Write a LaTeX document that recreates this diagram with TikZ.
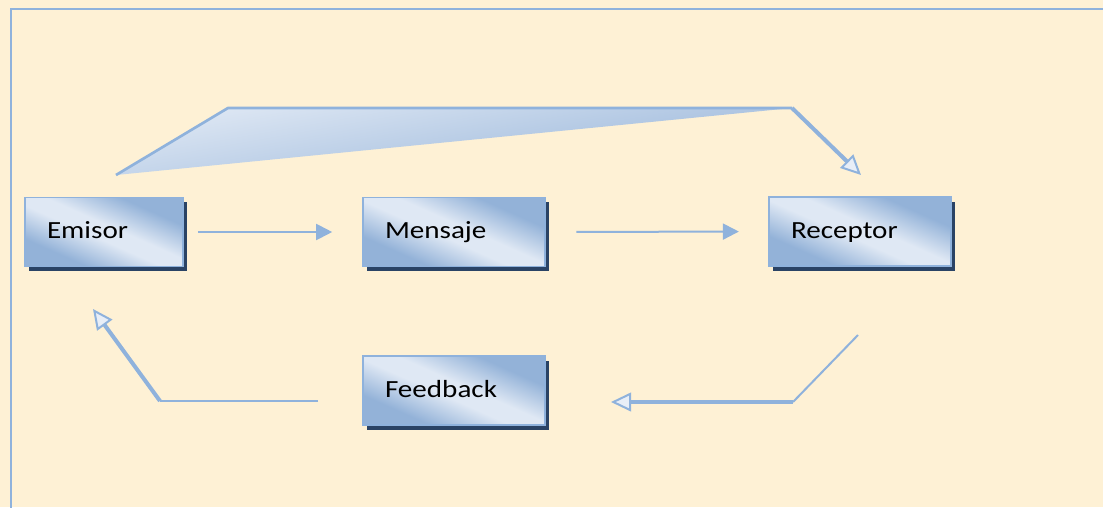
\documentclass[tikz,border=0pt]{standalone}
\usepackage{graphicx}
\usepackage{fontspec}
\setmainfont{Carlito}
\usetikzlibrary{arrows.meta,shadows}
\definecolor{bg}{HTML}{FEF1D5}
\definecolor{ln}{HTML}{8FB2DC}
\definecolor{lite}{HTML}{DFE8F4}
\definecolor{dark}{HTML}{93B2D8}
\definecolor{shad}{HTML}{2A4365}
\definecolor{afill}{HTML}{E8EEF7}
\pgfdeclareverticalshading{boxshade}{100bp}{color(0bp)=(dark); color(30bp)=(dark); color(46bp)=(lite); color(54bp)=(lite); color(70bp)=(dark); color(100bp)=(dark)}
\newcommand\stretchtxt[1]{\scalebox{1.18}[1]{#1}}
\begin{document}
\begin{tikzpicture}[x=0.75pt,y=-0.75pt,
  box/.style={draw=ln, line width=1.2pt, shading=boxshade,
    shading angle=-24, minimum height=51.75pt, text width=103.5pt, inner xsep=16.5pt, align=left,
    text height=10pt, text depth=0pt, font=\fontsize{18.5}{20}\selectfont,
    drop shadow={shadow xshift=3.2pt, shadow yshift=-3.4pt, fill=shad, opacity=1}},
  thinline/.style={draw=ln, line width=1.5pt},
  thinarrow/.style={thinline, -{Triangle[length=12pt,width=12pt]}},
  thickline/.style={draw=ln, line width=3pt, line join=round},
  thickarrow/.style={thickline, -{Triangle[length=15pt,width=14pt,line width=1.5pt,fill=afill]}}
]
\useasboundingbox (0,0) rectangle (1103,507);
\fill[bg] (0,0) rectangle (1103,507);
\draw[ln, line width=1.8pt] (11,510) -- (11,9) -- (1106,9);

% nodes
\node[box, text width=85.5pt] (em) at (104,232) {\stretchtxt{Emisor}};
\node[box] (me) at (454,232) {\stretchtxt{Mensaje}};
\node[box] (re) at (860,231.5) {\stretchtxt{Receptor}};
\node[box] (fe) at (454,390.5) {\stretchtxt{Feedback}};

% coordinates
\coordinate (w1) at (116,175);
\coordinate (w2) at (228,108);
\coordinate (w3) at (792,108);
\coordinate (t1) at (861,175);
\coordinate (r1) at (858,335);
\coordinate (r2) at (793,402);
\coordinate (r3) at (611,402);
\coordinate (l1) at (318,401);
\coordinate (l2) at (160,401);
\coordinate (l3) at (93,309);

% top wedge
\shade[top color=lite, bottom color=dark, shading angle=10] (w1) -- (w2) -- (w3) -- cycle;
\draw[ln, line width=2pt, line join=round] (w1) -- (w2) -- (w3);
\draw[thickarrow] (w3) -- (t1);

% straight arrows
\draw[thinarrow, shorten <=10.5pt, shorten >=22.5pt] (em.east) -- (me.west);
\draw[thinarrow, shorten <=23pt, shorten >=22pt] (me.east) -- (re.west);

% return from receptor
\draw[thinline] (r1) -- (r2);
\draw[thickarrow] (r2) -- (r3);

% feedback to emisor
\draw[thinline] (l1) -- (l2);
\draw[thickarrow] (l2) -- (l3);
\end{tikzpicture}
\end{document}
